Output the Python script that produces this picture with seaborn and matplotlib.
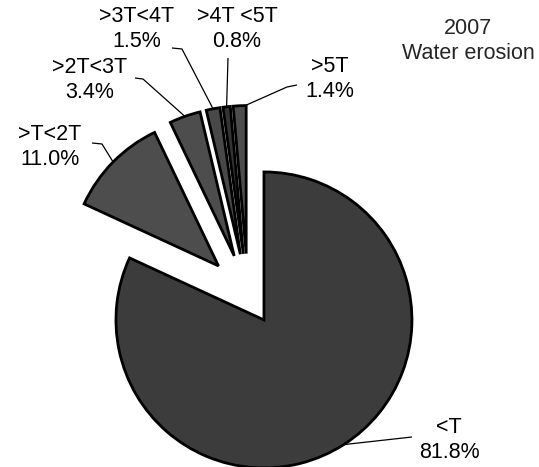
import numpy as np
import matplotlib
matplotlib.use('Agg')
import matplotlib.pyplot as plt
import seaborn as sns

# data
categories = ['<T', '>T<2T', '>2T<3T', '>3T<4T', '>4T <5T', '>5T']
shares = [81.8, 11.0, 3.4, 1.5, 0.8, 1.4]
title_text = '2007\nWater erosion'

sns.set_style('white')
plt.rcParams['font.family'] = ['Liberation Sans', 'DejaVu Sans']

W, H = 539, 467
CX, CY, R = 248, 295, 148   # pie centre / radius in pixels


def px(x, y):
    # pixel position -> data coords (pie radius = 1)
    return (x - CX) / R, (CY - y) / R


fig = plt.figure(figsize=(W / 100, H / 100), dpi=100)
ax = fig.add_axes([0, 0, 1, 1])

explode = [0.2, 0.28, 0.28, 0.28, 0.28, 0.28]
colors = ['#3c3c3c', '#4d4d4d', '#4d4d4d', '#484848', '#333333', '#4d4d4d']
wedges, _ = ax.pie(shares, explode=explode, startangle=90, counterclock=False,
                   colors=colors,
                   wedgeprops=dict(edgecolor='black', linewidth=2.0))

# label blocks (centre of block) and leader line starts, in pixels
label_pos = [(449, 440), (50, 147), (90, 80), (137, 29), (237, 29), (330, 79)]
leader_pts = [[(412, 437)],
              [(92, 143), (102, 144)],
              [(135, 78), (143, 79)],
              [(172, 48), (182, 49)],
              [(228, 58)],
              [(297, 85), (287, 87)]]
anchor_frac = [0.5, 0.5, 0.5, 0.5, 0.5, 0.08]

for i, w in enumerate(wedges):
    ang = np.deg2rad(w.theta1 + anchor_frac[i] * (w.theta2 - w.theta1))
    ax0, ay0 = w.center
    anchor = (ax0 + w.r * np.cos(ang), ay0 + w.r * np.sin(ang))
    pts = [px(*p) for p in leader_pts[i]] + [anchor]
    xs, ys = zip(*pts)
    ax.plot(xs, ys, color='black', lw=0.9, solid_capstyle='butt')
    tx, ty = px(*label_pos[i])
    ax.text(tx, ty, f'{categories[i]}\n{shares[i]:.1f}%', ha='center', va='center',
            fontsize=15.5, linespacing=1.3, color='black')

tx, ty = px(468, 41)
ax.text(tx, ty, title_text, ha='center', va='center', fontsize=15.5, linespacing=1.2)

ax.set_xlim(px(0, 0)[0], px(W, 0)[0])
ax.set_ylim(px(0, H)[1], px(0, 0)[1])
ax.set_aspect('equal')
ax.axis('off')

fig.savefig('out.png', dpi=100)
